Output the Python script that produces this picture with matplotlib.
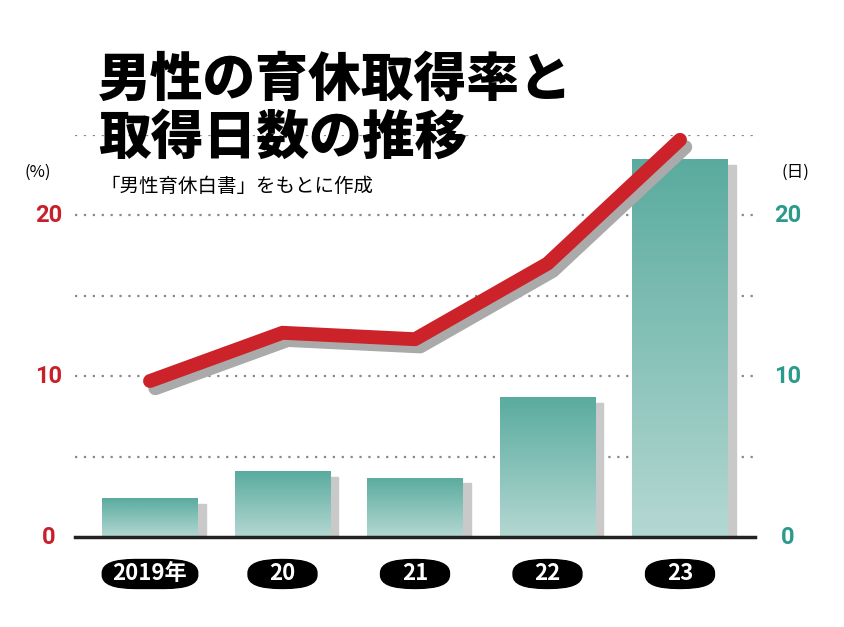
import matplotlib
matplotlib.use("Agg")
import matplotlib.pyplot as plt
import numpy as np
from matplotlib.patches import Rectangle, FancyBboxPatch
from matplotlib.colors import LinearSegmentedColormap

years = ["2019年", "20", "21", "22", "23"]
rate_pct = [9.7, 12.7, 12.3, 17.0, 24.7]
days = [2.4, 4.1, 3.7, 8.7, 23.5]

plt.rcParams["font.family"] = "Noto Sans CJK JP"
W, H = 845, 627
fig = plt.figure(figsize=(W/100, H/100), dpi=100)
ax = fig.add_axes([75/W, 1-537/H, 680/W, 402/H])
x = np.arange(len(years))
ax.set_xlim(-75/132.5, 4+75/132.5)
ax.set_ylim(0, 25)
for s in ax.spines.values():
    s.set_visible(False)
ax.set_xticks([]); ax.set_yticks([])

for g in [5, 10, 15, 20, 25]:
    ax.axhline(g, color="#888888", lw=1.6, ls=(0, (1, 3)), zorder=0)
ax.plot([-75/132.5, 4+75/132.5], [0, 0], color="#222222", lw=2.5, clip_on=False, zorder=5)

cmap = LinearSegmentedColormap.from_list("t", ["#5aab9f", "#b4d8d2"])
grad = np.linspace(0, 1, 256).reshape(-1, 1)
bw = 0.72
for xi, d in zip(x, days):
    sh = Rectangle((xi - bw/2 + 0.06, 0), bw, d - 0.35, color="#c9c9c9", zorder=1)
    ax.add_patch(sh)
    r = Rectangle((xi - bw/2, 0), bw, d, facecolor="none", edgecolor="none", zorder=2)
    ax.add_patch(r)
    im = ax.imshow(grad, cmap=cmap, aspect="auto", extent=(xi - bw/2, xi + bw/2, 0, d),
                   origin="upper", zorder=2)
    im.set_clip_path(r)
ax.set_xlim(-75/132.5, 4+75/132.5)
ax.set_ylim(0, 25)

ax.plot(x + 0.04, np.array(rate_pct) - 0.45, color="#aaaaaa", lw=10, solid_capstyle="round",
        solid_joinstyle="round", zorder=3, clip_on=False)
ax.plot(x, rate_pct, color="#cc2229", lw=10, solid_capstyle="round",
        solid_joinstyle="round", zorder=4, clip_on=False)

for v in [0, 10, 20]:
    ax.text(-75/132.5 - 0.2, v, str(v), color="#c8202a", fontsize=17, fontweight="bold",
            ha="center", va="center", family="Roboto")
    ax.text(4+75/132.5 + 0.25, v, str(v), color="#2a9a8c", fontsize=17, fontweight="bold",
            ha="center", va="center", family="Roboto")
fig.text(38/W, 1-172/H, "(%)", fontsize=12, ha="center", va="center")
fig.text(795/W, 1-172/H, "(日)", fontsize=12, ha="center", va="center")

for xi, lab in zip(x, years):
    w = 0.72 if xi == 0 else 0.52
    ax.add_patch(FancyBboxPatch((xi - w/2, -3.2), w, 1.8,
                                boxstyle="round,pad=0,rounding_size=0.25",
                                mutation_aspect=3.3, color="black", clip_on=False))
    ax.text(xi, -2.3, lab, color="white", fontsize=16, ha="center", va="center",
            fontweight="bold")

fig.text(98/W, 1-80/H, "男性の育休取得率と", fontsize=38, fontweight="black", va="center")
fig.text(98/W, 1-138/H, "取得日数の推移", fontsize=38, fontweight="black", va="center")
fig.text(100/W, 1-187/H, "「男性育休白書」をもとに作成", fontsize=14, va="center")

fig.savefig("out.png", dpi=100, facecolor="white")
